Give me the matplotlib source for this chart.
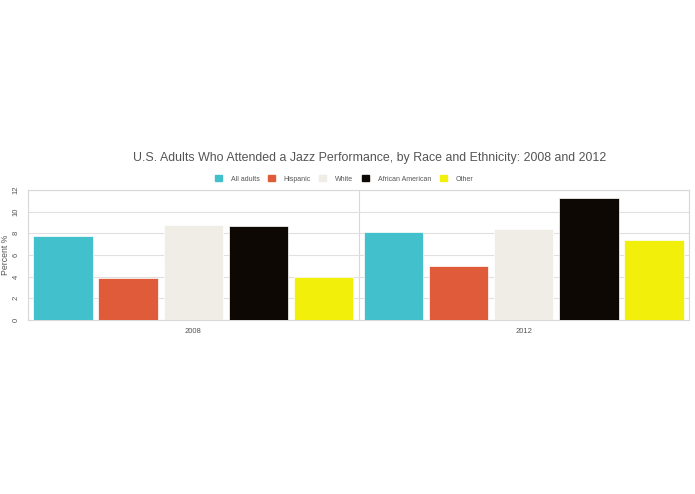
import matplotlib.pyplot as plt
import numpy as np

plt.rcParams['font.family'] = ['Liberation Sans', 'DejaVu Sans']

years = ["2008", "2012"]
groups = ["All adults", "Hispanic", "White", "African American", "Other"]
all_adults = [7.8, 8.1]
hispanic = [3.9, 5.0]
white = [8.8, 8.4]
african_american = [8.7, 11.3]
other = [4.0, 7.4]
colors = ["#42c0cb", "#e05b3a", "#f0ede7", "#0d0804", "#f2f00a"]

series = [all_adults, hispanic, white, african_american, other]

fig = plt.figure(figsize=(6.95, 4.94), dpi=100)
ax = fig.add_axes([28 / 695, 174 / 494, 661 / 695, 130 / 494])

x = np.arange(len(years))
step = 0.197
width = 0.18
for i, (vals, name) in enumerate(zip(series, groups)):
    ax.bar(x + (i - 2) * step, vals, width, color=colors[i], label=name,
           edgecolor="white", linewidth=0.5, zorder=3)

ax.set_xlim(-0.5, 1.5)
ax.set_ylim(0, 12)
ax.set_yticks(range(0, 13, 2))
ax.set_xticks(x)
ax.set_xticklabels(years, fontsize=5.5, color="#555555")
ax.tick_params(axis="y", labelsize=5.5, labelcolor="#555555", labelrotation=90, length=0, pad=6)
ax.tick_params(axis="x", length=0, pad=6)
for lbl in ax.get_yticklabels():
    lbl.set_va("center")
ax.grid(axis="y", color="#e0e0e0", linewidth=0.8, zorder=0)
ax.axvline(0.5, color="#d8d8d8", linewidth=0.8, zorder=1)
for s in ax.spines.values():
    s.set_color("#d8d8d8")
    s.set_linewidth(0.8)

fig.text(6 / 695, 1 - 255 / 494, "Percent %", rotation=90, ha="center", va="center",
         fontsize=6.3, color="#555555")

fig.text(370 / 695, 1 - 158 / 494,
         "U.S. Adults Who Attended a Jazz Performance, by Race and Ethnicity: 2008 and 2012",
         ha="center", va="center", fontsize=8.9, color="#555555")

handles = [plt.Rectangle((0, 0), 1, 1, color=c) for c in colors]
fig.legend(handles, groups, loc="center", bbox_to_anchor=(344 / 695, 1 - 179 / 494), ncol=5,
           fontsize=5.0, frameon=False, handlelength=1.0, handleheight=1.0,
           columnspacing=1.2, handletextpad=1.3, labelcolor="#555555")

fig.savefig("out.png", dpi=100)
